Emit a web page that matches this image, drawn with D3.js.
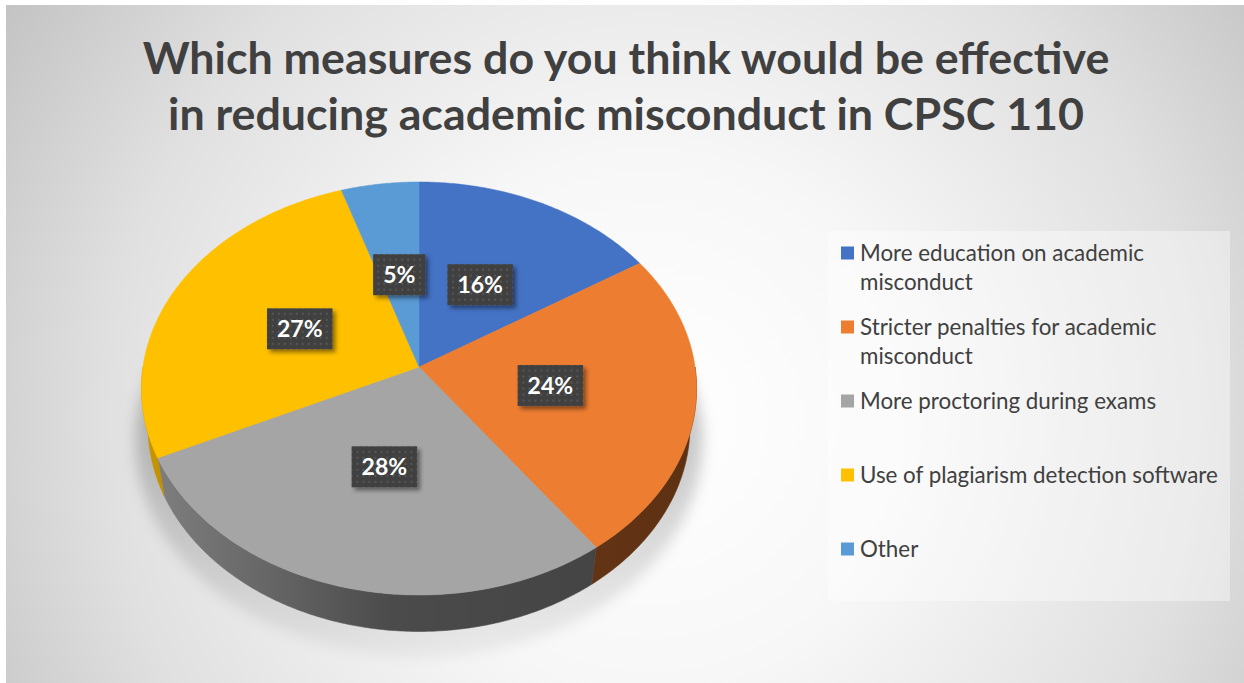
<!DOCTYPE html>
<html>
<head>
<meta charset="utf-8">
<script src="https://cdn.jsdelivr.net/npm/d3@7"></script>
<style>
  html, body { margin: 0; padding: 0; background: #fff; }
  svg { display: block; }
</style>
</head>
<body>
<div id="chart"></div>
<script>
// --- data ---
const categories = [
  "More education on academic misconduct",
  "Stricter penalties for academic misconduct",
  "More proctoring during exams",
  "Use of plagiarism detection software",
  "Other"
];
const values = [16, 24, 28, 27, 5];
const colors = ["#4472C4", "#ED7D31", "#A5A5A5", "#FFC000", "#5B9BD5"];
const titleLines = [
  "Which measures do you think would be effective",
  "in reducing academic misconduct in CPSC 110"
];

const width = 1244, height = 683;

// simple perspective camera for the 3d pie
const cam = { cx: 419, cy: 367, f: 1786, d0: 6.47, sinA: 0.740, cosA: 0.673 };
const depthH = 0.21;   // wall height, in pie radii

function proj(x, y, z) {
  const depth = cam.d0 + y * cam.cosA - z * cam.sinA;
  const yc = y * cam.sinA + z * cam.cosA;
  return [cam.cx + cam.f * x / depth, cam.cy - cam.f * yc / depth];
}
function ring(a0, a1, r, z) {
  const n = Math.max(2, Math.ceil(Math.abs(a1 - a0) / 0.01));
  return d3.range(n + 1).map(i => {
    const a = a0 + (a1 - a0) * i / n;
    return proj(r * Math.sin(a), r * Math.cos(a), z);
  });
}

const svg = d3.select("#chart").append("svg")
  .attr("width", width).attr("height", height);
const defs = svg.append("defs");

// background
const bg = defs.append("radialGradient").attr("id", "bg")
  .attr("gradientUnits", "userSpaceOnUse")
  .attr("cx", 650).attr("cy", 420).attr("r", 760);
[[0, "#ffffff"], [0.35, "#f7f7f7"], [0.72, "#e0e0e0"], [1, "#c4c4c4"]]
  .forEach(([o, c]) => bg.append("stop").attr("offset", o).attr("stop-color", c));
svg.append("rect").attr("x", 6).attr("y", 5)
  .attr("width", width - 6).attr("height", height - 5)
  .attr("fill", "url(#bg)");

// title (squeezed a bit so it is as tall as the original)
const title = svg.append("g").attr("fill", "#404040")
  .attr("font-family", "Lato, 'Open Sans', sans-serif")
  .attr("font-weight", "bold")
  .attr("font-size", 44)
  .attr("text-anchor", "middle");
const t1 = title.append("text").attr("x", 0).attr("y", 74).text(titleLines[0]);
title.append("text").attr("x", 0).attr("y", 130).text(titleLines[1]);
const sx = 967 / t1.node().getComputedTextLength();
title.attr("transform", `translate(626,0) scale(${sx},1)`);

// pie layout
const arcs = d3.pie().sort(null).value(d => d)(values);
const line = d3.line();

// soft shadow beneath the pie
const blur = defs.append("filter").attr("id", "blur")
  .attr("x", "-20%").attr("y", "-20%").attr("width", "140%").attr("height", "140%");
blur.append("feGaussianBlur").attr("stdDeviation", 7);
const shFade = defs.append("linearGradient").attr("id", "shfade")
  .attr("x1", 0).attr("y1", 0).attr("x2", 0).attr("y2", 1);
shFade.append("stop").attr("offset", 0).attr("stop-color", "#000").attr("stop-opacity", 0);
shFade.append("stop").attr("offset", 0.45).attr("stop-color", "#000").attr("stop-opacity", 0.22);
shFade.append("stop").attr("offset", 1).attr("stop-color", "#000").attr("stop-opacity", 0.05);
svg.append("path")
  .attr("d", line(ring(0, 2 * Math.PI, 1.05, -depthH - 0.04)) + "Z")
  .attr("transform", "translate(0,6)")
  .attr("fill", "url(#shfade)")
  .attr("filter", "url(#blur)");

// walls (front half only)
const walls = svg.append("g");
arcs.forEach((a, i) => {
  const s = Math.max(a.startAngle, Math.PI / 2);
  const e = Math.min(a.endAngle, Math.PI * 1.5);
  if (e <= s) return;
  const base = d3.color(colors[i]);
  const g = defs.append("linearGradient").attr("id", "wall" + i)
    .attr("gradientUnits", "userSpaceOnUse")
    .attr("x1", 143).attr("x2", 695).attr("y1", 0).attr("y2", 0);
  [[0, 0.7], [0.45, 2.2], [1, 2.6]].forEach(([o, k]) =>
    g.append("stop").attr("offset", o).attr("stop-color", base.darker(k)));
  const pts = ring(s, e, 1, 0).concat(ring(e, s, 1, -depthH));
  walls.append("path")
    .attr("d", line(pts) + "Z")
    .attr("fill", `url(#wall${i})`)
    .attr("stroke", `url(#wall${i})`).attr("stroke-width", 0.6);
});

// top faces
const tops = svg.append("g");
arcs.forEach((a, i) => {
  const pts = [proj(0, 0, 0)].concat(ring(a.startAngle, a.endAngle, 1, 0));
  tops.append("path")
    .attr("d", line(pts) + "Z")
    .attr("fill", colors[i])
    .attr("stroke", colors[i]).attr("stroke-width", 0.5);
});

// data labels
const dots = defs.append("pattern").attr("id", "dots")
  .attr("patternUnits", "userSpaceOnUse").attr("width", 6).attr("height", 6);
dots.append("rect").attr("width", 6).attr("height", 6).attr("fill", "#404040");
dots.append("rect").attr("x", 2).attr("y", 2).attr("width", 2).attr("height", 2).attr("fill", "#565656");
const drop = defs.append("filter").attr("id", "drop")
  .attr("x", "-30%").attr("y", "-30%").attr("width", "170%").attr("height", "170%");
drop.append("feDropShadow").attr("dx", 3).attr("dy", 3)
  .attr("stdDeviation", 2.2).attr("flood-color", "#000").attr("flood-opacity", 0.45);

const labels = svg.append("g")
  .attr("font-family", "Lato, 'Open Sans', sans-serif")
  .attr("font-weight", "bold").attr("font-size", 23);
arcs.forEach(a => {
  const mid = (a.startAngle + a.endAngle) / 2;
  const [lx, ly] = proj(0.48 * Math.sin(mid), 0.48 * Math.cos(mid), 0);
  const g = labels.append("g").attr("transform", `translate(${lx},${ly})`);
  const box = g.append("rect").attr("fill", "url(#dots)").attr("filter", "url(#drop)");
  const t = g.append("text").attr("fill", "#fff").attr("text-anchor", "middle")
    .attr("dy", "0.36em").text(a.data + "%");
  const w = t.node().getComputedTextLength() + 20;
  box.attr("x", -w / 2).attr("y", -20.5).attr("width", w).attr("height", 41);
});

// legend
const legend = svg.append("g")
  .attr("font-family", "Lato, 'Open Sans', sans-serif").attr("fill", "#404040");
legend.append("rect").attr("x", 828).attr("y", 231)
  .attr("width", 402).attr("height", 370)
  .attr("fill", "#fff").attr("fill-opacity", 0.38);

const probe = legend.append("text").attr("font-size", 20).text(categories[3]);
const lfs = 20 * 358 / probe.node().getComputedTextLength();
probe.remove();
const wrapW = 366;

const itemY = d3.scalePoint().domain(categories).range([253, 549]);
categories.forEach((c, i) => {
  const y = itemY(c);
  legend.append("rect").attr("x", 841).attr("y", y - 6.5)
    .attr("width", 13).attr("height", 13).attr("fill", colors[i]);
  const txt = legend.append("text").attr("x", 860).attr("y", y)
    .attr("font-size", lfs).attr("dy", "0.35em");
  // word wrap
  const words = c.split(" ");
  let cur = [];
  let ts = txt.append("tspan").attr("x", 860);
  words.forEach(wd => {
    cur.push(wd);
    ts.text(cur.join(" "));
    if (ts.node().getComputedTextLength() > wrapW && cur.length > 1) {
      cur.pop();
      ts.text(cur.join(" "));
      cur = [wd];
      ts = txt.append("tspan").attr("x", 860).attr("dy", 29).text(wd);
    }
  });
});
</script>
</body>
</html>
